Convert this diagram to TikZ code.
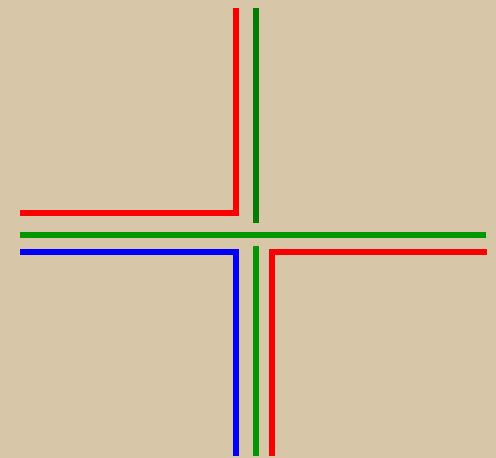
\documentclass[tikz,border=0pt]{standalone}
\usepackage{xcolor}
\usepackage{tikz}

\definecolor{paper}{RGB}{216,198,168}
\definecolor{wirered}{RGB}{250,0,0}
\definecolor{wiregreen}{RGB}{0,150,0}
\definecolor{wiredark}{RGB}{0,125,0}
\definecolor{wireblue}{RGB}{0,0,250}

\begin{document}
\begin{tikzpicture}[x=1pt,y=-1pt,line width=6pt,line join=miter]
  \fill[paper] (0,0) rectangle (496,458);
  \useasboundingbox (0,0) rectangle (496,458);
  \coordinate (r1) at (20,213);
  \coordinate (r2) at (236,213);
  \coordinate (r3) at (236,8);
  \coordinate (g1) at (255.5,8);
  \coordinate (g2) at (255.5,222.5);
  \coordinate (h1) at (20,234.5);
  \coordinate (h2) at (486,234.5);
  \coordinate (b1) at (20,252);
  \coordinate (b2) at (236,252);
  \coordinate (b3) at (236,456);
  \coordinate (g3) at (255.5,245.5);
  \coordinate (g4) at (255.5,456);
  \coordinate (s1) at (487,252);
  \coordinate (s2) at (271.5,252);
  \coordinate (s3) at (271.5,456);
  \draw[wirered] (r1) -- (r2) -- (r3);
  \draw[wiredark] (g1) -- (g2);
  \draw[wiregreen] (h1) -- (h2);
  \draw[wireblue] (b1) -- (b2) -- (b3);
  \draw[wiregreen] (g3) -- (g4);
  \draw[wirered] (s1) -- (s2) -- (s3);
\end{tikzpicture}
\end{document}
